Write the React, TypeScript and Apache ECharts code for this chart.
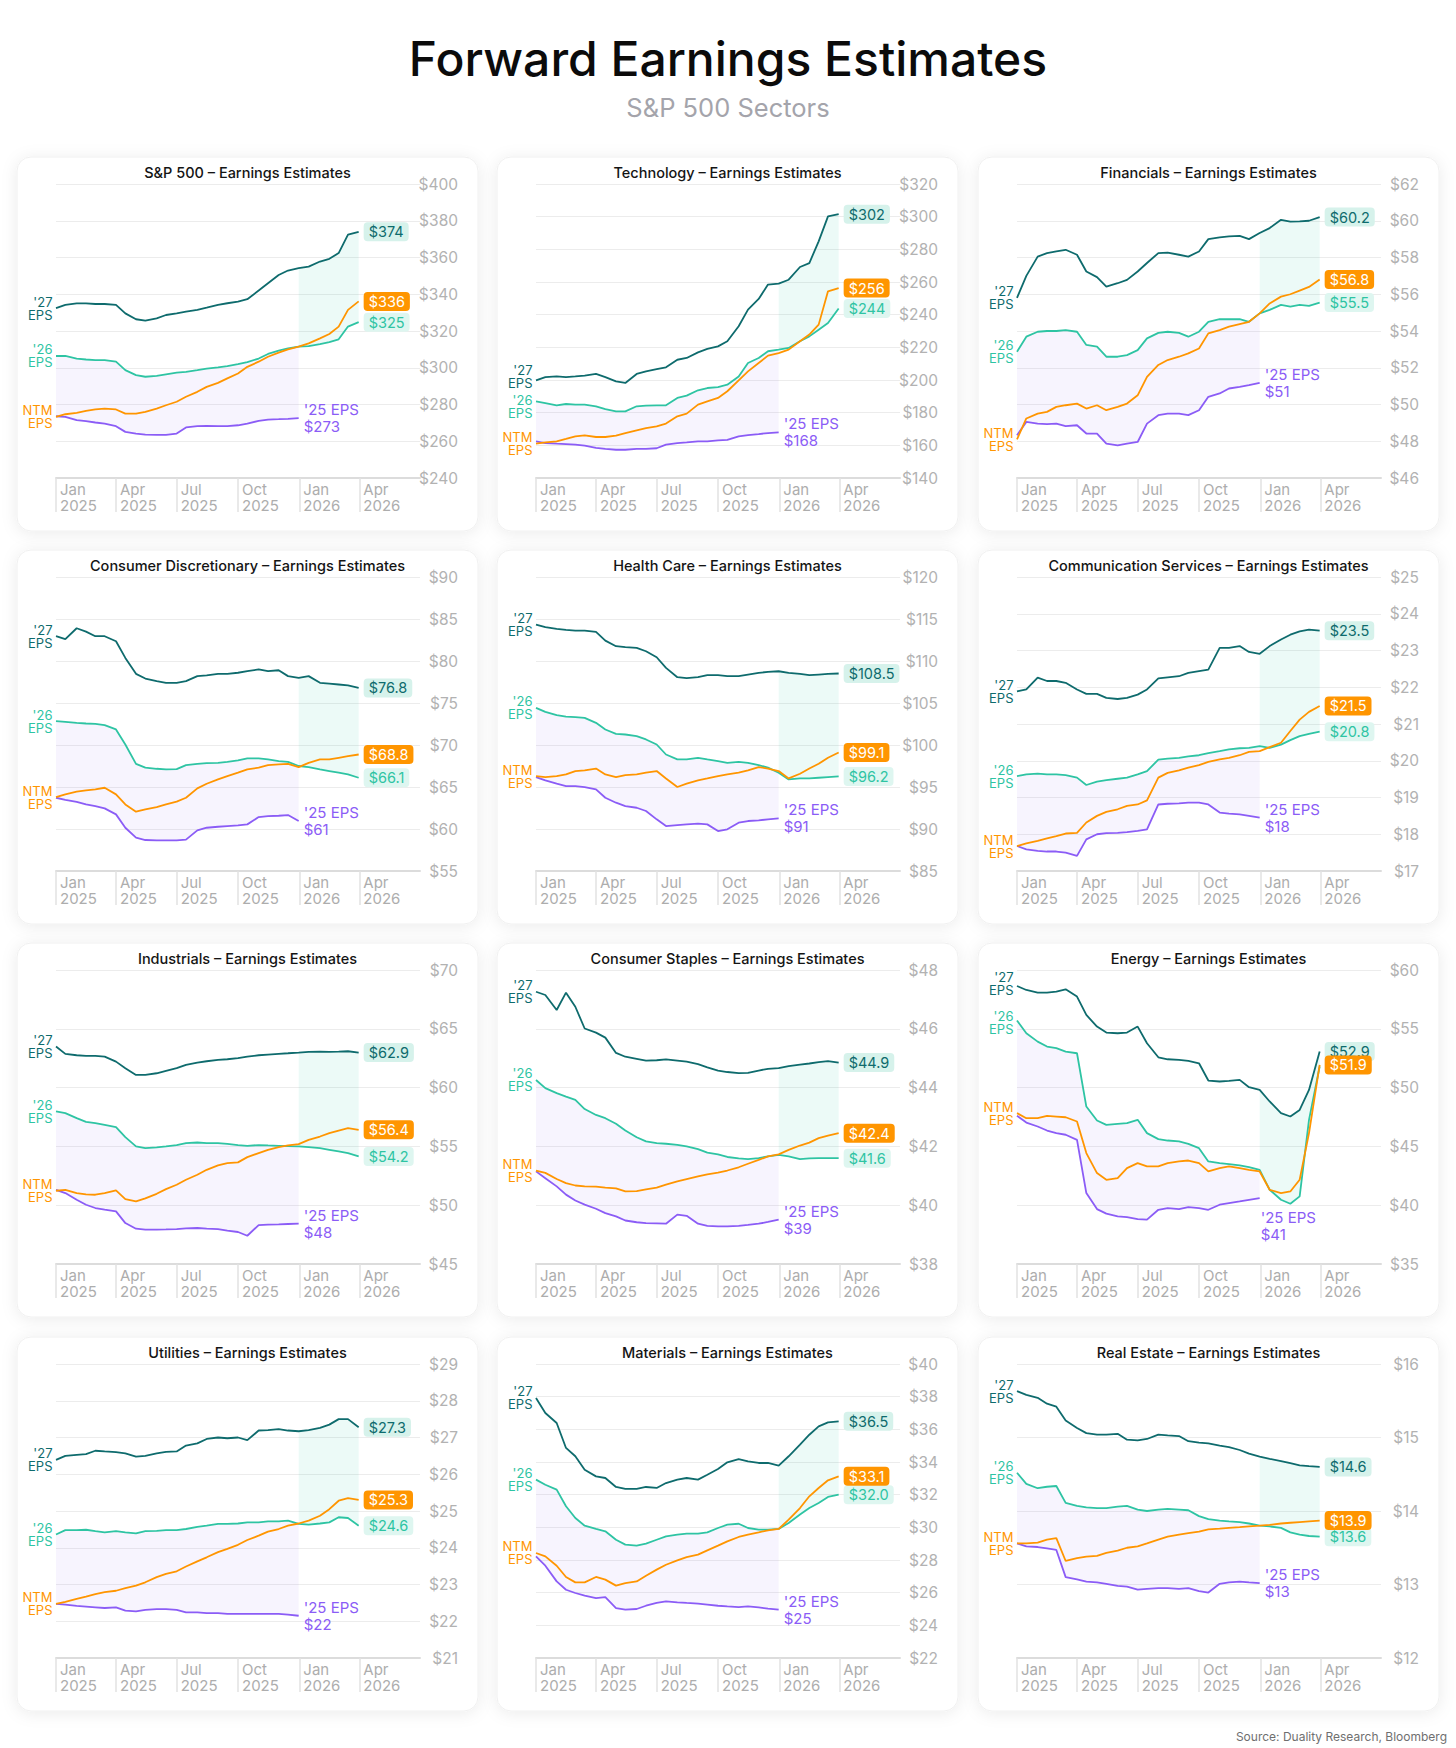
import React, { useEffect, useRef } from "react";
import * as echarts from "echarts";

// ---------- dates (half-monthly readings) ----------
const DATES = [
  "2025-01-01", "2025-01-15", "2025-02-01", "2025-02-15", "2025-03-01", "2025-03-15",
  "2025-04-01", "2025-04-15", "2025-05-01", "2025-05-15", "2025-06-01", "2025-06-15",
  "2025-07-01", "2025-07-15", "2025-08-01", "2025-08-15", "2025-09-01", "2025-09-15",
  "2025-10-01", "2025-10-15", "2025-11-01", "2025-11-15", "2025-12-01", "2025-12-15",
  "2025-12-31", "2026-01-15", "2026-02-01", "2026-02-15", "2026-03-01", "2026-03-15",
  "2026-03-31",
];
const N25 = 25; // '25 EPS ends at the end of 2025
const X_TICKS = ["2025-01-01", "2025-04-01", "2025-07-01", "2025-10-01", "2026-01-01", "2026-04-01"];
const X_MIN = "2025-01-01";
const X_MAX = "2026-07-01";
const MONTHS = ["Jan", "Feb", "Mar", "Apr", "May", "Jun", "Jul", "Aug", "Sep", "Oct", "Nov", "Dec"];

// ---------- S&P 500 ----------
const SPX_27 = [332.4, 334.2, 335.0, 335.0, 334.7, 334.7, 334.2, 329.6, 326.4, 325.6, 326.9, 328.7, 329.6, 330.5, 331.5, 332.7, 334.2, 335.1, 336.0, 337.3, 342.0, 346.0, 350.5, 352.9, 354.2, 355.0, 357.8, 359.3, 362.4, 372.5, 374.0];
const SPX_26 = [306.4, 306.4, 305.0, 304.5, 304.2, 304.2, 303.3, 298.7, 296.0, 295.1, 295.6, 296.4, 297.3, 297.8, 298.7, 299.5, 300.2, 300.9, 302.0, 303.1, 305.0, 307.5, 309.3, 310.5, 311.5, 311.8, 312.9, 314.0, 315.5, 322.4, 324.8];
const SPX_NTM = [273.3, 274.7, 275.5, 276.5, 277.3, 277.8, 277.3, 275.0, 275.0, 276.0, 277.8, 279.6, 281.5, 284.2, 286.9, 289.6, 291.8, 294.2, 296.9, 300.5, 303.3, 306.0, 308.2, 310.0, 311.5, 313.3, 316.0, 318.4, 322.4, 331.5, 336.1];
const SPX_25 = [273.6, 273.3, 271.5, 270.9, 270.2, 269.6, 268.2, 265.1, 264.2, 263.6, 263.5, 263.5, 264.2, 267.5, 268.2, 268.4, 268.2, 268.2, 268.7, 269.6, 271.1, 271.8, 272.0, 272.2, 272.6];
const SPX_LABELS = ["$374", "$325", "$336", "$273"];

// ---------- Technology ----------
const TECH_27 = [199.8, 201.8, 202.2, 201.8, 202.2, 202.7, 203.7, 201.8, 199.2, 198.2, 203.7, 205.3, 206.7, 207.8, 212.4, 213.5, 216.9, 219.0, 220.6, 223.7, 232.9, 243.1, 249.6, 258.4, 259.0, 261.4, 269.2, 271.6, 284.9, 300.2, 301.5];
const TECH_26 = [186.9, 185.9, 184.5, 185.3, 184.9, 184.9, 183.9, 182.2, 180.8, 180.8, 183.9, 184.3, 184.5, 184.5, 189.0, 190.4, 193.7, 195.1, 195.7, 197.1, 202.2, 210.4, 213.5, 217.6, 218.6, 219.6, 223.7, 226.7, 230.8, 234.9, 243.8];
const TECH_NTM = [161.0, 161.8, 162.4, 163.9, 165.5, 166.1, 165.1, 165.1, 165.9, 167.5, 169.2, 170.6, 171.6, 173.3, 177.8, 179.4, 184.9, 186.9, 189.0, 193.1, 199.8, 205.3, 210.4, 214.9, 216.5, 218.6, 223.7, 227.8, 233.9, 254.3, 256.3];
const TECH_25 = [162.4, 161.4, 161.0, 160.8, 160.4, 159.8, 158.4, 157.8, 157.3, 157.3, 157.8, 157.8, 158.2, 160.4, 161.4, 161.8, 162.4, 162.4, 163.0, 163.4, 165.5, 166.3, 166.9, 167.5, 167.9];
const TECH_LABELS = ["$302", "$244", "$256", "$168"];

// ---------- Financials ----------
const FIN_27 = [55.8, 57.0, 58.05, 58.24, 58.33, 58.42, 58.15, 57.24, 56.93, 56.42, 56.6, 56.78, 57.24, 57.7, 58.24, 58.27, 58.15, 58.05, 58.33, 59.0, 59.1, 59.15, 59.18, 59.0, 59.33, 59.6, 60.05, 59.95, 59.97, 60.0, 60.2];
const FIN_26 = [52.87, 53.69, 53.96, 54.0, 54.0, 54.05, 53.96, 53.24, 53.15, 52.6, 52.6, 52.69, 52.96, 53.6, 53.9, 53.96, 53.9, 53.69, 53.96, 54.5, 54.64, 54.65, 54.64, 54.5, 54.96, 55.15, 55.42, 55.33, 55.42, 55.37, 55.55];
const FIN_NTM = [48.1, 49.24, 49.5, 49.6, 49.87, 49.96, 50.05, 49.78, 49.96, 49.69, 49.87, 50.05, 50.5, 51.5, 52.15, 52.42, 52.6, 52.78, 53.05, 53.87, 54.05, 54.24, 54.38, 54.5, 54.96, 55.5, 55.87, 56.0, 56.2, 56.4, 56.8];
const FIN_25 = [48.33, 49.05, 48.96, 48.93, 48.96, 48.82, 48.87, 48.42, 48.42, 47.87, 47.78, 47.87, 47.96, 48.96, 49.42, 49.5, 49.5, 49.42, 49.69, 50.42, 50.6, 50.87, 50.96, 51.05, 51.18];
const FIN_LABELS = ["$60.2", "$55.5", "$56.8", "$51"];

// ---------- Consumer Discretionary ----------
const CD_27 = [82.95, 82.6, 83.9, 83.5, 82.95, 82.95, 82.35, 80.37, 78.47, 77.91, 77.6, 77.4, 77.4, 77.6, 78.2, 78.3, 78.47, 78.47, 78.6, 78.8, 79.0, 78.8, 78.9, 78.2, 78.0, 78.2, 77.4, 77.3, 77.2, 77.1, 76.8];
const CD_26 = [72.84, 72.76, 72.64, 72.56, 72.52, 72.36, 71.85, 70.06, 67.76, 67.3, 67.17, 67.1, 67.13, 67.6, 67.76, 67.84, 67.88, 68.0, 68.16, 68.4, 68.4, 68.28, 68.08, 68.0, 67.5, 67.37, 67.1, 66.9, 66.7, 66.5, 66.1];
const CD_NTM = [63.8, 64.12, 64.44, 64.6, 64.71, 64.91, 64.12, 62.93, 62.06, 62.33, 62.61, 62.93, 63.25, 63.72, 64.83, 65.39, 65.9, 66.3, 66.7, 67.1, 67.3, 67.6, 67.69, 67.76, 67.37, 67.88, 68.28, 68.28, 68.48, 68.68, 68.87];
const CD_25 = [63.72, 63.48, 63.24, 62.93, 62.73, 62.45, 61.74, 60.15, 58.97, 58.69, 58.65, 58.65, 58.65, 58.73, 59.84, 60.15, 60.27, 60.35, 60.43, 60.55, 61.42, 61.54, 61.58, 61.66, 60.95];
const CD_LABELS = ["$76.8", "$66.1", "$68.8", "$61"];

// ---------- Health Care ----------
const HC_27 = [114.33, 114.02, 113.82, 113.7, 113.62, 113.62, 113.46, 112.43, 111.76, 111.64, 111.56, 111.16, 110.45, 109.18, 108.07, 107.95, 108.07, 108.31, 108.31, 108.19, 108.19, 108.39, 108.59, 108.7, 108.78, 108.59, 108.47, 108.31, 108.39, 108.47, 108.51];
const HC_26 = [104.42, 103.95, 103.55, 103.39, 103.31, 103.23, 102.64, 101.85, 101.33, 101.25, 101.05, 100.66, 100.06, 98.87, 98.28, 98.28, 98.48, 98.28, 98.08, 97.88, 98.0, 97.88, 97.61, 97.3, 96.7, 95.9, 96.02, 96.02, 96.1, 96.18, 96.26];
const HC_NTM = [96.3, 96.18, 96.3, 96.5, 96.9, 96.97, 97.2, 96.5, 96.18, 96.42, 96.5, 96.7, 96.9, 96.02, 95.0, 95.39, 95.78, 96.02, 96.3, 96.5, 96.7, 96.97, 97.37, 97.2, 96.9, 96.02, 96.58, 97.2, 97.76, 98.48, 99.1];
const HC_25 = [96.18, 95.78, 95.39, 95.11, 95.11, 94.99, 94.71, 93.72, 93.13, 92.73, 92.53, 92.14, 91.15, 90.35, 90.47, 90.55, 90.63, 90.55, 89.76, 89.96, 90.75, 90.95, 91.03, 91.15, 91.26];
const HC_LABELS = ["$108.5", "$96.2", "$99.1", "$91"];

// ---------- Communication Services ----------
const CS_27 = [21.89, 21.94, 22.26, 22.17, 22.17, 22.12, 21.94, 21.82, 21.82, 21.71, 21.68, 21.71, 21.8, 21.94, 22.24, 22.27, 22.3, 22.39, 22.44, 22.48, 23.07, 23.07, 23.12, 22.96, 22.91, 23.12, 23.3, 23.43, 23.52, 23.57, 23.54];
const CS_26 = [19.58, 19.63, 19.65, 19.63, 19.63, 19.61, 19.54, 19.34, 19.43, 19.47, 19.51, 19.54, 19.63, 19.72, 20.03, 20.06, 20.08, 20.12, 20.15, 20.21, 20.26, 20.31, 20.34, 20.35, 20.4, 20.35, 20.44, 20.56, 20.67, 20.73, 20.79];
const CS_NTM = [17.68, 17.75, 17.82, 17.89, 17.95, 18.02, 18.04, 18.32, 18.5, 18.61, 18.68, 18.77, 18.81, 18.92, 19.54, 19.67, 19.74, 19.81, 19.88, 19.97, 20.04, 20.08, 20.15, 20.24, 20.26, 20.37, 20.49, 20.81, 21.12, 21.33, 21.49];
const CS_25 = [17.68, 17.59, 17.55, 17.53, 17.53, 17.5, 17.41, 17.86, 18.0, 18.03, 18.04, 18.06, 18.09, 18.13, 18.81, 18.83, 18.84, 18.86, 18.86, 18.81, 18.59, 18.56, 18.54, 18.5, 18.45];
const CS_LABELS = ["$23.5", "$20.8", "$21.5", "$18"];

// ---------- Industrials ----------
const IND_27 = [63.49, 62.87, 62.75, 62.7, 62.7, 62.64, 62.21, 61.65, 61.08, 61.08, 61.22, 61.42, 61.65, 61.93, 62.13, 62.24, 62.36, 62.41, 62.5, 62.64, 62.75, 62.81, 62.87, 62.92, 62.98, 63.04, 63.06, 63.04, 63.06, 63.09, 62.98];
const IND_26 = [57.97, 57.83, 57.4, 57.09, 56.98, 56.83, 56.64, 55.79, 55.0, 54.85, 54.91, 55.0, 55.11, 55.28, 55.33, 55.28, 55.28, 55.22, 55.11, 55.05, 55.11, 55.08, 55.05, 55.02, 55.0, 54.94, 54.85, 54.71, 54.57, 54.43, 54.15];
const IND_NTM = [51.23, 51.31, 51.03, 50.92, 50.89, 51.03, 51.26, 50.52, 50.32, 50.58, 50.97, 51.37, 51.74, 52.16, 52.59, 53.01, 53.38, 53.58, 53.64, 54.09, 54.43, 54.71, 54.94, 55.08, 55.19, 55.56, 55.84, 56.13, 56.35, 56.55, 56.41];
const IND_25 = [51.31, 51.03, 50.46, 50.04, 49.76, 49.62, 49.47, 48.48, 48.0, 47.92, 47.92, 47.94, 47.97, 48.03, 48.06, 48.0, 47.97, 47.83, 47.72, 47.4, 48.31, 48.34, 48.37, 48.4, 48.43];
const IND_LABELS = ["$62.9", "$54.2", "$56.4", "$48"];

// ---------- Consumer Staples ----------
const CST_27 = [47.26, 47.15, 46.64, 47.23, 46.75, 46.01, 45.87, 45.7, 45.18, 45.05, 44.98, 44.92, 44.93, 44.96, 44.92, 44.88, 44.8, 44.69, 44.58, 44.53, 44.49, 44.5, 44.58, 44.64, 44.66, 44.73, 44.78, 44.82, 44.87, 44.9, 44.85];
const CST_26 = [44.26, 43.98, 43.81, 43.69, 43.58, 43.27, 43.07, 42.96, 42.77, 42.54, 42.31, 42.17, 42.11, 42.09, 42.05, 42.0, 41.91, 41.79, 41.73, 41.64, 41.59, 41.57, 41.6, 41.66, 41.71, 41.66, 41.57, 41.59, 41.6, 41.6, 41.6];
const CST_NTM = [41.18, 41.1, 40.89, 40.75, 40.67, 40.64, 40.63, 40.6, 40.57, 40.47, 40.48, 40.54, 40.6, 40.7, 40.81, 40.89, 40.98, 41.05, 41.11, 41.18, 41.29, 41.41, 41.54, 41.66, 41.73, 41.88, 42.03, 42.13, 42.28, 42.37, 42.45];
const CST_25 = [41.15, 40.92, 40.64, 40.36, 40.16, 40.02, 39.88, 39.73, 39.62, 39.48, 39.42, 39.39, 39.38, 39.37, 39.68, 39.64, 39.37, 39.3, 39.28, 39.28, 39.3, 39.33, 39.37, 39.43, 39.51];
const CST_LABELS = ["$44.9", "$41.6", "$42.4", "$39"];

// ---------- Energy ----------
const EN_27 = [58.64, 58.3, 58.07, 58.07, 58.16, 58.36, 57.74, 56.18, 55.19, 54.68, 54.62, 54.68, 55.19, 53.77, 52.58, 52.41, 52.36, 52.27, 52.07, 50.6, 50.52, 50.57, 50.66, 50.03, 49.81, 48.82, 47.83, 47.54, 48.1, 49.8, 53.06];
const EN_26 = [55.7, 54.62, 53.91, 53.49, 53.35, 53.06, 52.92, 48.39, 47.2, 46.83, 46.92, 46.98, 47.26, 46.13, 45.62, 45.5, 45.42, 45.22, 44.85, 43.72, 43.58, 43.49, 43.38, 43.24, 43.0, 41.31, 40.46, 40.12, 40.75, 47.26, 51.79];
const EN_NTM = [47.83, 47.4, 47.4, 47.6, 47.54, 47.48, 47.12, 44.43, 42.73, 42.16, 42.3, 43.15, 43.58, 43.3, 43.3, 43.58, 43.72, 43.8, 43.58, 42.87, 43.15, 43.3, 43.15, 43.0, 42.87, 41.31, 41.03, 41.17, 42.16, 46.13, 51.93];
const EN_25 = [47.6, 47.03, 46.69, 46.35, 46.13, 45.99, 45.56, 41.03, 39.67, 39.28, 39.05, 38.99, 38.82, 38.77, 39.61, 39.76, 39.67, 39.84, 39.76, 39.61, 40.04, 40.18, 40.32, 40.46, 40.61];
const EN_LABELS = ["$52.9", "", "$51.9", "$41"];

// ---------- Utilities ----------
const UT_27 = [26.39, 26.5, 26.53, 26.55, 26.64, 26.62, 26.6, 26.57, 26.48, 26.5, 26.57, 26.61, 26.62, 26.78, 26.84, 26.96, 27.0, 26.98, 27.0, 26.93, 27.19, 27.2, 27.23, 27.19, 27.17, 27.2, 27.26, 27.35, 27.5, 27.5, 27.28];
const UT_26 = [24.36, 24.48, 24.48, 24.49, 24.45, 24.42, 24.45, 24.42, 24.39, 24.45, 24.46, 24.48, 24.48, 24.51, 24.57, 24.6, 24.65, 24.65, 24.66, 24.69, 24.69, 24.72, 24.72, 24.74, 24.65, 24.63, 24.66, 24.69, 24.83, 24.81, 24.6];
const UT_NTM = [22.47, 22.53, 22.61, 22.67, 22.74, 22.79, 22.83, 22.9, 22.97, 23.06, 23.2, 23.29, 23.36, 23.49, 23.63, 23.74, 23.88, 23.97, 24.08, 24.21, 24.33, 24.44, 24.51, 24.6, 24.66, 24.74, 24.87, 25.05, 25.28, 25.35, 25.3];
const UT_25 = [22.47, 22.45, 22.42, 22.4, 22.38, 22.36, 22.38, 22.29, 22.27, 22.31, 22.33, 22.33, 22.31, 22.24, 22.24, 22.22, 22.22, 22.2, 22.2, 22.2, 22.2, 22.2, 22.2, 22.18, 22.15];
const UT_LABELS = ["$27.3", "$24.6", "$25.3", "$22"];

// ---------- Materials ----------
const MAT_27 = [37.92, 37.0, 36.39, 34.86, 34.35, 33.53, 33.12, 33.02, 32.47, 32.35, 32.35, 32.47, 32.41, 32.71, 32.92, 33.02, 32.92, 33.22, 33.57, 33.98, 34.18, 34.04, 33.94, 33.94, 33.78, 34.35, 35.06, 35.67, 36.18, 36.43, 36.49];
const MAT_26 = [32.92, 32.61, 32.31, 31.29, 30.57, 30.1, 29.9, 29.76, 29.24, 28.94, 28.88, 29.0, 29.24, 29.45, 29.55, 29.61, 29.61, 29.69, 29.96, 30.16, 30.22, 29.96, 29.86, 29.86, 29.9, 30.27, 30.78, 31.18, 31.49, 31.86, 32.0];
const MAT_NTM = [28.43, 28.22, 27.65, 26.96, 26.63, 26.63, 26.96, 26.8, 26.43, 26.59, 26.69, 27.04, 27.41, 27.71, 27.98, 28.18, 28.33, 28.59, 28.88, 29.14, 29.41, 29.55, 29.69, 29.82, 29.9, 30.47, 31.18, 31.9, 32.41, 32.88, 33.12];
const MAT_25 = [28.22, 27.65, 26.69, 26.18, 25.98, 25.82, 25.67, 25.73, 25.06, 24.96, 25.0, 25.2, 25.37, 25.47, 25.41, 25.37, 25.33, 25.27, 25.2, 25.16, 25.12, 25.16, 25.1, 25.02, 24.96];
const MAT_LABELS = ["$36.5", "$32.0", "$33.1", "$25"];

// ---------- Real Estate ----------
const RE_27 = [15.63, 15.58, 15.54, 15.46, 15.42, 15.23, 15.13, 15.06, 15.04, 15.04, 15.05, 14.97, 14.96, 14.98, 15.04, 15.03, 15.02, 14.95, 14.93, 14.92, 14.89, 14.87, 14.83, 14.78, 14.74, 14.71, 14.68, 14.65, 14.62, 14.61, 14.6];
const RE_26 = [14.52, 14.37, 14.31, 14.33, 14.34, 14.11, 14.07, 14.05, 14.04, 14.04, 14.06, 14.07, 14.02, 14.0, 14.02, 14.03, 14.02, 14.01, 13.93, 13.89, 13.87, 13.86, 13.85, 13.83, 13.8, 13.79, 13.77, 13.71, 13.68, 13.66, 13.65];
const RE_NTM = [13.56, 13.56, 13.57, 13.61, 13.63, 13.32, 13.36, 13.38, 13.39, 13.43, 13.46, 13.5, 13.52, 13.56, 13.61, 13.65, 13.68, 13.7, 13.72, 13.75, 13.76, 13.77, 13.78, 13.79, 13.8, 13.81, 13.83, 13.84, 13.85, 13.86, 13.87];
const RE_25 = [13.56, 13.52, 13.51, 13.49, 13.47, 13.1, 13.07, 13.04, 13.03, 13.01, 12.98, 12.97, 12.93, 12.94, 12.95, 12.95, 12.94, 12.95, 12.91, 12.89, 13.01, 13.03, 13.04, 13.03, 13.02];
const RE_LABELS = ["$14.6", "$13.6", "$13.9", "$13"];

// ---------- panel table built from the arrays ----------
const PANELS = [
  { title: "S&P 500 – Earnings Estimates", yMin: 240, yMax: 400, yStep: 20, e27: SPX_27, e26: SPX_26, ntm: SPX_NTM, e25: SPX_25, labels: SPX_LABELS },
  { title: "Technology – Earnings Estimates", yMin: 140, yMax: 320, yStep: 20, e27: TECH_27, e26: TECH_26, ntm: TECH_NTM, e25: TECH_25, labels: TECH_LABELS },
  { title: "Financials – Earnings Estimates", yMin: 46, yMax: 62, yStep: 2, e27: FIN_27, e26: FIN_26, ntm: FIN_NTM, e25: FIN_25, labels: FIN_LABELS },
  { title: "Consumer Discretionary – Earnings Estimates", yMin: 55, yMax: 90, yStep: 5, e27: CD_27, e26: CD_26, ntm: CD_NTM, e25: CD_25, labels: CD_LABELS },
  { title: "Health Care – Earnings Estimates", yMin: 85, yMax: 120, yStep: 5, e27: HC_27, e26: HC_26, ntm: HC_NTM, e25: HC_25, labels: HC_LABELS },
  { title: "Communication Services – Earnings Estimates", yMin: 17, yMax: 25, yStep: 1, e27: CS_27, e26: CS_26, ntm: CS_NTM, e25: CS_25, labels: CS_LABELS },
  { title: "Industrials – Earnings Estimates", yMin: 45, yMax: 70, yStep: 5, e27: IND_27, e26: IND_26, ntm: IND_NTM, e25: IND_25, labels: IND_LABELS },
  { title: "Consumer Staples – Earnings Estimates", yMin: 38, yMax: 48, yStep: 2, e27: CST_27, e26: CST_26, ntm: CST_NTM, e25: CST_25, labels: CST_LABELS },
  { title: "Energy – Earnings Estimates", yMin: 35, yMax: 60, yStep: 5, e27: EN_27, e26: EN_26, ntm: EN_NTM, e25: EN_25, labels: EN_LABELS },
  { title: "Utilities – Earnings Estimates", yMin: 21, yMax: 29, yStep: 1, e27: UT_27, e26: UT_26, ntm: UT_NTM, e25: UT_25, labels: UT_LABELS },
  { title: "Materials – Earnings Estimates", yMin: 22, yMax: 40, yStep: 2, e27: MAT_27, e26: MAT_26, ntm: MAT_NTM, e25: MAT_25, labels: MAT_LABELS },
  { title: "Real Estate – Earnings Estimates", yMin: 12, yMax: 16, yStep: 1, e27: RE_27, e26: RE_26, ntm: RE_NTM, e25: RE_25, labels: RE_LABELS },
];

// ---------- layout & style ----------
const W = 1456;
const H = 1748;
const PANEL_X = [17, 497, 978];
const PANEL_Y = [157, 550, 943, 1337];
const PANEL_W = 461;
const PANEL_H = 374;
// label nudges in pixels: ['25 end label [dx, dy]], start labels dy for ['27, '26, NTM]
const LABEL25_OFFSET = [[0, 0], [0, 0], [0, 0], [0, 0], [0, 0], [0, 0], [0, 0], [0, 0], [-4, 28], [0, 0], [0, 0], [0, 0]];
const START_DY = [[0, 0, 0], [-4, 5, 0], [0, 0, 0], [0, 0, 0], [0, 0, 0], [0, 0, 0], [0, 0, 0], [0, 0, 0], [-2, 2, 0], [0, 0, 0], [0, 0, 0], [0, 0, 0]];

const FONT = 'Inter, "Noto Sans", sans-serif';
const C27 = "#0e6b6d";
const C26 = "#2ec4a3";
const CNTM = "#ff9500";
const C25 = "#8b5cf6";
const BG27 = "#d6f2eb";
const BG26 = "#def6f0";
const LAVENDER = "rgba(139, 92, 246, 0.065)";
const MINT = "rgba(46, 196, 163, 0.09)";

const toTs = (s: string) => {
  const [y, m, d] = s.split("-").map(Number);
  return Date.UTC(y, m - 1, d);
};

function fillSeries(idx: number, times: number[], lo: number[], hi: number[], color: string) {
  const data = times.map((t, k) => [t, lo[k], hi[k]]);
  return {
    type: "custom",
    xAxisIndex: idx,
    yAxisIndex: idx,
    z: 1,
    silent: true,
    clip: true,
    data,
    encode: { x: 0, y: [1, 2] },
    renderItem: (params: any, api: any) => {
      if (params.dataIndex !== 0) return null;
      const top = data.map((d) => api.coord([d[0], d[2]]));
      const bottom = data.map((d) => api.coord([d[0], d[1]])).reverse();
      return { type: "polygon", shape: { points: top.concat(bottom) }, style: { fill: color } };
    },
  };
}

function lineSeries(idx: number, data: number[][], color: string, endLabel: any, startLabel?: string, startDy = 0) {
  const s: any = {
    type: "line",
    xAxisIndex: idx,
    yAxisIndex: idx,
    data,
    z: 3,
    silent: true,
    showSymbol: false,
    symbol: "none",
    lineStyle: { color, width: 1.8 },
    itemStyle: { color },
    emphasis: { disabled: true },
    endLabel,
  };
  if (startLabel) {
    s.markPoint = {
      silent: true,
      symbol: "circle",
      symbolSize: 1,
      itemStyle: { color: "rgba(0,0,0,0)" },
      data: [{ coord: data[0] }],
      label: {
        show: true,
        position: "left",
        distance: 3,
        offset: [0, startDy],
        formatter: startLabel,
        color,
        fontSize: 13,
        lineHeight: 13,
        fontFamily: FONT,
        align: "right",
      },
    };
  }
  return s;
}

function boxLabel(text: string, color: string, bg: string) {
  return {
    show: text !== "",
    formatter: text,
    color,
    backgroundColor: bg,
    padding: [2, 5, 2, 5],
    borderRadius: 4,
    fontSize: 14.5,
    lineHeight: 15,
    fontFamily: FONT,
    distance: 5,
  };
}

function buildOption() {
  const T = DATES.map(toTs);
  const ticks = X_TICKS.map(toTs);
  const grid: any[] = [];
  const xAxis: any[] = [];
  const yAxis: any[] = [];
  const series: any[] = [];
  const elements: any[] = [
    {
      type: "text", x: W / 2, y: 58, z: 10, silent: true,
      style: { text: "Forward Earnings Estimates", fill: "#0b0b0b", fontSize: 48, fontWeight: 500, fontFamily: FONT, textAlign: "center", textVerticalAlign: "middle" },
    },
    {
      type: "text", x: W / 2, y: 107, z: 10, silent: true,
      style: { text: "S&P 500 Sectors", fill: "#a4a4ab", fontSize: 25.5, fontWeight: 400, fontFamily: FONT, textAlign: "center", textVerticalAlign: "middle" },
    },
    {
      type: "text", x: 1447, y: 1736, z: 10, silent: true,
      style: { text: "Source: Duality Research, Bloomberg", fill: "#6f6f6f", fontSize: 12, fontFamily: FONT, textAlign: "right", textVerticalAlign: "middle" },
    },
  ];

  PANELS.forEach((p, i) => {
    const px = PANEL_X[i % 3];
    const py = PANEL_Y[Math.floor(i / 3)];
    elements.push({
      type: "rect", z: -5, silent: true,
      shape: { x: px, y: py, width: PANEL_W, height: PANEL_H, r: 14 },
      style: { fill: "#ffffff", stroke: "#f0f0f0", lineWidth: 1, shadowBlur: 16, shadowColor: "rgba(0,0,0,0.08)", shadowOffsetY: 2 },
    });
    elements.push({
      type: "text", x: px + PANEL_W / 2, y: py + 15, z: 10, silent: true,
      style: { text: p.title, fill: "#141414", fontSize: 14.5, fontWeight: 500, fontFamily: FONT, textAlign: "center", textVerticalAlign: "middle" },
    });

    grid.push({ left: px + 39, top: py + 27, width: 364, height: 294 });
    xAxis.push({
      type: "value",
      gridIndex: i,
      min: toTs(X_MIN),
      max: toTs(X_MAX),
      splitLine: { show: false },
      axisLine: { show: true, lineStyle: { color: "#dcdcdc", width: 2 } },
      axisTick: { show: true, customValues: ticks, length: 34, lineStyle: { color: "#e2e2e2", width: 1.5 } },
      axisLabel: {
        show: true,
        customValues: ticks,
        formatter: (v: number) => {
          const d = new Date(v);
          return MONTHS[d.getUTCMonth()] + "\n" + d.getUTCFullYear();
        },
        align: "left",
        padding: [0, 0, 0, 4],
        margin: 3,
        color: "#adadad",
        fontSize: 15,
        lineHeight: 16.5,
        fontFamily: FONT,
      },
    });
    yAxis.push({
      type: "value",
      gridIndex: i,
      position: "right",
      min: p.yMin,
      max: p.yMax,
      interval: p.yStep,
      axisLine: { show: false },
      axisTick: { show: false },
      splitLine: { show: true, lineStyle: { color: "#ececec", width: 1 } },
      axisLabel: { formatter: (v: number) => "$" + v, color: "#b2b2b2", fontSize: 15.5, margin: 38, align: "right", fontFamily: FONT },
    });

    const pts = (arr: number[], from: number, to: number) => arr.slice(from, to).map((v, k) => [T[from + k], v]);

    series.push(fillSeries(i, T.slice(0, N25), p.e25.slice(0, N25), p.e26.slice(0, N25), LAVENDER));
    series.push(fillSeries(i, T.slice(N25 - 1), p.e26.slice(N25 - 1), p.e27.slice(N25 - 1), MINT));

    const off = LABEL25_OFFSET[i];
    const sdy = START_DY[i];
    series.push(
      lineSeries(i, pts(p.e25, 0, N25), C25, {
        show: true,
        formatter: "'25 EPS\n" + p.labels[3],
        color: C25,
        fontSize: 15,
        lineHeight: 17,
        fontFamily: FONT,
        distance: 5,
        offset: off,
      })
    );
    series.push(lineSeries(i, pts(p.e26, 0, DATES.length), C26, boxLabel(p.labels[1], C26, BG26), "'26\nEPS", sdy[1]));
    series.push(lineSeries(i, pts(p.e27, 0, DATES.length), C27, boxLabel(p.labels[0], C27, BG27), "'27\nEPS", sdy[0]));
    series.push(lineSeries(i, pts(p.ntm, 0, DATES.length), CNTM, boxLabel(p.labels[2], "#ffffff", CNTM), "NTM\nEPS", sdy[2]));
  });

  return {
    animation: false,
    backgroundColor: "#ffffff",
    grid,
    xAxis,
    yAxis,
    series,
    graphic: { elements },
  };
}

export default function App() {
  const ref = useRef<HTMLDivElement | null>(null);
  useEffect(() => {
    document.body.style.margin = "0";
    if (!ref.current) return;
    const chart = echarts.init(ref.current, null, { renderer: "svg", width: W, height: H });
    chart.setOption(buildOption() as any);
    return () => chart.dispose();
  }, []);
  return <div ref={ref} style={{ width: W, height: H }} />;
}
